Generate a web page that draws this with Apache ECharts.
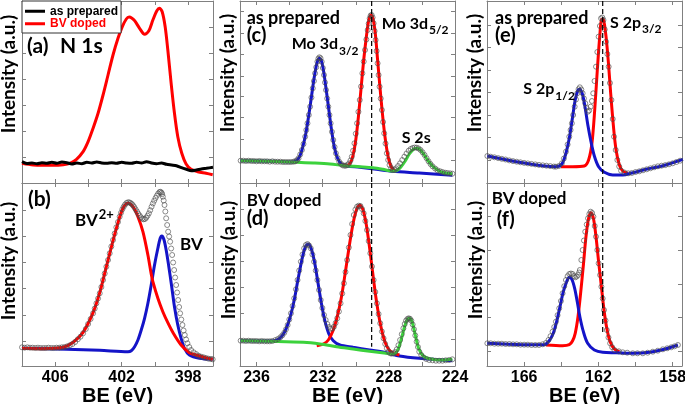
<!DOCTYPE html>
<html>
<head>
<meta charset="utf-8">
<script src="https://cdn.jsdelivr.net/npm/echarts@6/dist/echarts.min.js"></script>
<style>
html,body{margin:0;padding:0;background:#fff;}
#chart{width:685px;height:404px;}
</style>
</head>
<body>
<div id="chart"></div>
<script>
// ---------- DATA (binding energy in eV, intensity in arbitrary units) ----------
// Panel (a) N 1s survey
const nA_asPrepared = [[408.0,21.3],[407.7,19.5],[407.4,20.0],[407.1,19.3],[406.8,20.3],[406.5,19.7],[406.2,20.7],[405.9,19.7],[405.6,21.0],[405.3,20.3],[405.0,19.0],[404.7,20.0],[404.4,19.3],[404.1,20.7],[403.8,20.0],[403.5,21.0],[403.2,20.0],[402.9,19.7],[402.6,20.3],[402.3,19.7],[402.0,20.7],[401.7,20.0],[401.4,19.7],[401.1,20.7],[400.8,20.0],[400.5,21.3],[400.2,20.0],[399.9,19.3],[399.6,20.0],[399.3,18.7],[399.0,18.0],[398.7,17.3],[398.4,15.3],[398.1,13.7],[397.8,12.3],[397.5,13.0],[397.2,14.0],[396.9,14.7],[396.5,15.7]];
const nA_bvDoped = [[408.00,19.7],[407.32,18],[406.72,17.7],[406.12,17.7],[405.52,18.3],[405.12,19.7],[404.72,23.7],[404.32,31.3],[404.02,41.3],[403.72,54.7],[403.42,69.7],[403.12,88],[402.82,108],[402.52,128],[402.22,144.7],[401.96,156.3],[401.72,164],[401.55,165.9],[401.38,164.8],[401.22,162.3],[400.92,154.7],[400.62,148.7],[400.36,152.3],[400.12,163],[399.88,172.3],[399.72,174.7],[399.56,171.3],[399.38,156.3],[399.22,133],[399.02,99.7],[398.82,69.7],[398.62,46.3],[398.38,29.7],[398.12,19],[397.82,13.7],[397.42,11.3],[396.92,9.7],[396.52,8.3]];
// Panel (b) N 1s fit of BV doped
const nB_data = [[408.0,18.7],[407.84,18.3],[407.68,18.7],[407.52,18.3],[407.36,18.3],[407.2,18.0],[407.04,18.3],[406.88,18.0],[406.72,18.0],[406.56,18.0],[406.4,18.3],[406.24,18.0],[406.08,18.0],[405.92,18.3],[405.76,18.3],[405.6,18.7],[405.44,19.0],[405.28,19.7],[405.12,20.7],[404.96,22],[404.8,24],[404.64,26.7],[404.48,29.3],[404.32,32.7],[404.16,37],[404.02,42],[403.87,47],[403.72,52.7],[403.62,57.5],[403.52,62.7],[403.42,67.5],[403.32,72.7],[403.22,79],[403.12,86],[403.02,92.5],[402.92,99.3],[402.82,106],[402.72,112.7],[402.62,119.5],[402.52,126],[402.42,132.5],[402.32,138.7],[402.22,144],[402.12,149.3],[402.04,153.2],[401.96,156.7],[401.88,159.2],[401.80,161.3],[401.71,163],[401.62,163.7],[401.54,163.6],[401.46,163],[401.39,162],[401.32,160.7],[401.24,158.9],[401.16,156.7],[401.08,154.5],[401.00,152.3],[400.92,150.4],[400.84,148.7],[400.76,147.4],[400.68,146.7],[400.60,147],[400.52,148.3],[400.44,150.3],[400.36,152.7],[400.28,155.8],[400.20,159.3],[400.12,162.5],[400.04,165.3],[399.96,168],[399.88,170.3],[399.80,172.4],[399.72,174],[399.66,174.2],[399.60,173.3],[399.56,171.8],[399.52,169.3],[399.47,165.5],[399.42,161],[399.37,154.5],[399.32,147.7],[399.26,141],[399.20,134.3],[399.14,129.5],[399.08,124.3],[399.02,117.5],[398.96,111],[398.90,103.5],[398.84,96],[398.78,88.5],[398.72,81],[398.66,73.5],[398.60,66],[398.54,59],[398.48,52.7],[398.41,46.5],[398.34,41],[398.27,35.5],[398.20,31],[398.12,26.5],[398.04,22.7],[397.93,19],[397.82,16],[397.67,13.7],[397.52,12],[397.37,10.3],[397.22,9.3],[397.07,8.7],[396.92,8],[396.77,7.3],[396.62,7],[396.52,6.7]];
const nB_fitBV2 = [[408.00,17.7],[406.72,17.3],[405.52,18.7],[404.92,23.7],[404.32,33.7],[403.72,53.3],[403.32,73.3],[402.92,99.3],[402.52,125.3],[402.22,143.3],[401.92,157.7],[401.62,162.7],[401.32,159.3],[401.02,149.3],[400.72,134.3],[400.42,111],[400.22,92],[400.12,84.3],[399.82,67.7],[399.52,54.3],[399.22,43.3],[398.92,33.7],[398.42,21],[397.92,13.3],[397.52,11],[396.92,8.3],[396.52,6.7]];
const nB_fitBV = [[408.00,17.7],[405.32,16.7],[403.32,15.7],[401.62,14.3],[401.42,15.3],[401.22,19.3],[401.02,26],[400.82,36],[400.62,47.7],[400.42,62.7],[400.22,81],[400.02,101],[399.82,117.7],[399.68,127.7],[399.58,130],[399.46,126.7],[399.32,116],[399.16,99.3],[399.00,81],[398.82,59.3],[398.62,41],[398.42,27.7],[398.22,17.7],[397.92,11],[397.32,7.7],[396.52,6.7]];
// Panel (c) Mo 3d, as prepared
const moC_data = [[236.96,22.3],[236.8,22.3],[236.64,22],[236.48,22.3],[236.32,22],[236.16,22],[236.0,21.7],[235.84,22],[235.68,21.7],[235.52,21.7],[235.36,21.7],[235.2,21.3],[235.04,21.7],[234.88,21.3],[234.72,21.3],[234.56,21.3],[234.4,21],[234.24,21],[234.08,21],[233.92,21],[233.76,21.3],[233.66,21.7],[233.56,22.8],[233.46,24.7],[233.36,28.5],[233.26,33],[233.16,39],[233.06,46.3],[232.99,53],[232.92,59.7],[232.84,68],[232.76,76.3],[232.68,85.5],[232.60,94.7],[232.53,102],[232.46,109.7],[232.39,115.8],[232.32,121.3],[232.26,124.4],[232.20,125.7],[232.13,124.8],[232.06,121.3],[231.99,115],[231.92,108],[231.86,100.5],[231.80,93],[231.73,84.5],[231.66,76.3],[231.59,68],[231.52,59.7],[231.44,51.2],[231.36,43],[231.28,36],[231.20,29.7],[231.10,25],[231.00,21.3],[230.90,19.2],[230.80,17.7],[230.70,17.3],[230.60,17.3],[230.50,18.2],[230.40,19.7],[230.32,22.5],[230.24,26.3],[230.16,32.3],[230.08,39.7],[230.00,49.3],[229.92,59.7],[229.84,71.2],[229.76,83],[229.68,96.5],[229.60,109.7],[229.52,121.5],[229.44,133],[229.36,143.5],[229.28,153],[229.22,159.5],[229.16,164.7],[229.10,167.5],[229.04,168],[228.98,165.5],[228.92,159.7],[228.86,152],[228.80,143],[228.74,132],[228.68,119.7],[228.62,108],[228.56,96.3],[228.49,84.5],[228.42,73],[228.35,61],[228.28,49.7],[228.20,39.5],[228.12,29.7],[228.04,23],[227.96,18],[227.86,15],[227.76,13],[227.66,13.3],[227.56,14.7],[227.44,17],[227.32,19.7],[227.19,23],[227.06,26.3],[226.93,29.5],[226.80,32.3],[226.68,34],[226.56,35],[226.44,35.5],[226.32,35.3],[226.20,34.5],[226.08,33],[225.96,30.7],[225.84,28],[225.72,24.8],[225.60,21.7],[225.48,19],[225.36,16.7],[225.2,14.5],[225.06,12.7],[224.9,11.7],[224.76,11],[224.6,10.3],[224.46,10],[224.3,9.7],[224.16,9.3]];
const moC_d32 = [[236.96,22.3],[235.16,21.7],[233.86,21],[233.60,22.3],[233.40,26.3],[233.20,36.3],[233.00,51.3],[232.84,68],[232.68,86.3],[232.52,104.7],[232.36,119],[232.22,124.7],[232.08,122.3],[231.94,111.3],[231.80,94.7],[231.64,74.7],[231.48,54.7],[231.30,36.3],[231.10,24.7],[230.86,18.7],[230.56,17],[229.76,15.7],[228.76,13.7],[227.76,11.7],[226.16,10],[224.16,7.7]];
const moC_d52 = [[230.86,17.7],[230.56,17.3],[230.32,20.3],[230.16,28],[230.00,43],[229.84,66.3],[229.68,94.7],[229.52,123],[229.36,146.3],[229.22,162.3],[229.08,168],[228.96,164.7],[228.82,149.7],[228.68,123],[228.54,96.3],[228.40,71.3],[228.26,49.7],[228.10,31.3],[227.94,19.7],[227.76,13.7],[227.56,12]];
const moC_s2s = [[236.96,22.3],[235.16,21.7],[233.56,20.7],[232.56,20],[231.56,19],[230.66,17.3],[229.76,16.3],[228.96,15.3],[228.36,13.7],[227.86,12],[227.56,12.3],[227.26,16.3],[227.00,22.3],[226.76,29],[226.56,33],[226.36,34.7],[226.16,34],[225.92,29.7],[225.66,23],[225.36,17],[225.06,13],[224.66,10.3],[224.16,9.3]];
// Panel (d) Mo 3d, BV doped
const moD_data = [[236.96,25.3],[236.8,25.3],[236.64,25],[236.48,25.3],[236.32,25],[236.16,25],[236.0,25],[235.84,24.7],[235.68,25],[235.52,24.7],[235.36,24.7],[235.2,24.7],[235.04,25],[234.86,26],[234.71,27],[234.56,28.7],[234.44,30.7],[234.32,33.3],[234.22,36.7],[234.12,41],[234.02,46.5],[233.92,52.7],[233.82,60],[233.72,67.7],[233.62,76.7],[233.52,86],[233.42,95.5],[233.32,104.3],[233.22,111.5],[233.12,117.7],[233.02,121],[232.92,122],[232.82,120.5],[232.72,117.7],[232.62,111.5],[232.52,104.3],[232.42,95.5],[232.32,86],[232.22,76],[232.12,66],[232.02,58],[231.92,51],[231.82,46],[231.72,42],[231.62,39],[231.52,37.3],[231.42,37.5],[231.32,39.3],[231.22,43],[231.12,47.7],[231.02,54.5],[230.92,62.7],[230.82,72.5],[230.72,82.7],[230.62,94],[230.52,106],[230.42,118.5],[230.32,131],[230.22,142],[230.12,151],[230.02,156.5],[229.92,159.3],[229.82,160.3],[229.72,160],[229.62,157],[229.52,152.7],[229.42,145],[229.32,136],[229.22,125],[229.12,112.7],[229.02,99.5],[228.92,86],[228.82,74],[228.72,62.7],[228.62,52],[228.52,42.7],[228.42,34.5],[228.32,27.7],[228.22,22],[228.12,17.7],[228.02,14.5],[227.92,12.7],[227.82,12.3],[227.72,12.7],[227.62,14],[227.52,16.7],[227.42,20.8],[227.32,26],[227.22,31.8],[227.12,37.7],[227.04,42],[226.96,45.3],[226.88,47],[226.80,47.7],[226.72,47.2],[226.64,45.3],[226.56,41.5],[226.48,36.7],[226.40,30.5],[226.32,24.3],[226.24,19],[226.16,14.3],[226.04,11],[225.92,8.7],[225.74,7],[225.56,6],[225.36,5.7],[225.16,5.3],[224.96,5.3],[224.76,5.3],[224.56,5.7],[224.36,6],[224.16,6.7]];
const moD_d32 = [[236.96,25.3],[235.16,25],[234.76,26],[234.46,30],[234.20,37.7],[233.96,49.3],[233.72,66],[233.48,87.7],[233.24,107.7],[233.04,119.3],[232.88,122],[232.68,116.7],[232.48,102.7],[232.28,82.7],[232.08,62.7],[231.88,46],[231.64,32.7],[231.36,25.3],[230.96,21],[230.16,18.7],[229.16,16],[228.16,13.3],[227.36,10],[226.16,7.7],[224.16,5.3]];
const moD_d52 = [[232.36,20.3],[231.96,22],[231.66,26],[231.36,36],[231.12,49.3],[230.88,67.7],[230.64,92.7],[230.40,119.3],[230.16,142.7],[229.96,156],[229.76,160.7],[229.56,156],[229.36,141],[229.16,117.7],[228.96,91],[228.76,66],[228.56,46],[228.36,31],[228.16,21],[227.92,15],[227.66,12.7],[227.36,11]];
const moD_s2s = [[236.96,25.3],[235.16,24.7],[233.16,23.7],[232.16,22],[231.16,19.3],[230.16,17],[229.16,14.7],[228.16,12.7],[227.72,12],[227.46,16],[227.26,26],[227.06,38.7],[226.90,46],[226.76,47.7],[226.60,44.3],[226.40,31],[226.20,17.7],[225.92,10],[225.46,7],[224.76,6],[224.16,6.7]];
// Panel (e) S 2p, as prepared
const sE_data = [[167.98,27],[167.8,26.3],[167.6,25.7],[167.4,24.9],[167.2,24.2],[167.0,23.5],[166.8,22.6],[166.6,21.9],[166.4,21.3],[166.2,20.7],[166.0,20.1],[165.8,19.6],[165.6,19.1],[165.4,18.6],[165.2,18.1],[165.0,17.7],[164.8,17.3],[164.6,16.9],[164.4,16.5],[164.29,16.3],[164.13,17],[163.97,19.7],[163.86,24.5],[163.75,31.3],[163.66,38.5],[163.57,46.3],[163.50,53],[163.43,59.7],[163.36,68],[163.28,76.3],[163.21,83.5],[163.14,89.7],[163.07,93.8],[163.00,95.7],[162.92,93.5],[162.85,89.7],[162.78,84.5],[162.71,79.7],[162.64,75],[162.57,71.3],[162.50,72.5],[162.42,76.3],[162.35,82],[162.28,89.7],[162.21,102],[162.13,116.3],[162.06,131],[161.99,146.3],[161.92,157],[161.86,164.7],[161.79,165.5],[161.73,163],[161.66,153.5],[161.59,141.3],[161.52,129],[161.45,116.3],[161.38,100],[161.30,83],[161.23,64],[161.16,46.3],[161.07,33],[160.98,23],[160.88,16.5],[160.78,12.3],[160.6,10.5],[160.4,9.7],[160.2,10],[160.0,11],[159.8,11.7],[159.6,12.7],[159.4,13.7],[159.2,14.7],[159.0,15.7],[158.8,16.7],[158.6,17.3],[158.4,17.9],[158.2,18.7],[158.0,19.7],[157.8,21],[157.6,22.3],[157.45,23.7]];
const sE_p12 = [[167.98,27],[166.09,20.3],[164.29,16.3],[163.97,19],[163.75,29.7],[163.57,44.7],[163.39,66.3],[163.25,83],[163.11,92.3],[163.00,93.7],[162.85,88],[162.71,74.7],[162.57,58],[162.40,41.3],[162.22,27],[161.99,16.3],[161.68,10.7],[161.23,8],[160.69,8],[160.15,10.3],[159.43,13.7],[158.53,17.3],[157.45,23.7]];
const sE_p32 = [[164.02,16.3],[163.39,16.3],[162.76,17],[162.53,23],[162.35,39.7],[162.20,73],[162.06,113],[161.93,146.3],[161.82,163.7],[161.72,163],[161.59,146.3],[161.46,119.7],[161.34,89.7],[161.19,56.3],[161.05,33],[160.87,18],[160.69,12],[160.42,9.7]];
// Panel (f) S 2p, BV doped
const sF_data = [[167.98,22.7],[167.8,22.7],[167.6,22.3],[167.4,22.3],[167.2,22.3],[167.0,22],[166.8,22],[166.6,21.7],[166.4,21.7],[166.2,21.3],[166.0,21.3],[165.8,21.3],[165.6,21],[165.4,21],[165.2,21],[165.0,21.7],[164.83,23],[164.69,26],[164.58,29.8],[164.47,34.3],[164.38,39],[164.29,44.3],[164.20,50.8],[164.11,57.7],[164.02,65],[163.93,72.7],[163.84,79.8],[163.75,86],[163.66,89.8],[163.57,92],[163.48,92.5],[163.39,92],[163.32,90],[163.25,88.7],[163.17,89.5],[163.10,91],[163.04,93.5],[163.00,96],[162.92,106],[162.85,116],[162.78,125.5],[162.71,134.3],[162.63,141.5],[162.56,147.7],[162.49,152],[162.42,154.3],[162.34,153],[162.27,149.3],[162.20,140],[162.13,129.3],[162.06,116],[161.99,102.7],[161.91,91],[161.84,79.3],[161.77,67.5],[161.70,56],[161.62,45.5],[161.55,36],[161.46,28.5],[161.37,22.7],[161.26,18.8],[161.14,16],[160.9,14.7],[160.69,13.7],[160.45,13.3],[160.15,12.7],[159.9,12.7],[159.61,12.7],[159.35,13.3],[159.07,14.3],[158.8,15.3],[158.53,16.7],[158.3,17.7],[158.08,18.7],[157.9,19.7],[157.72,21]];
const sF_p12 = [[167.98,22.7],[166.09,21.3],[164.92,21.3],[164.65,25.3],[164.43,32.7],[164.25,44.3],[164.07,59.3],[163.89,74.3],[163.71,84.3],[163.57,88.7],[163.43,86.7],[163.28,77.7],[163.14,64.3],[163.00,49.3],[162.81,34.3],[162.58,22.7],[162.22,16],[161.77,13.7],[161.05,13.3],[160.15,12.7],[159.25,13.7],[158.35,17.3],[157.72,21]];
const sF_p32 = [[164.83,21],[163.93,20.3],[163.57,21.3],[163.39,25.3],[163.25,32.7],[163.10,49.3],[162.96,72.7],[162.81,101],[162.67,129.3],[162.53,147.7],[162.40,153.3],[162.27,147.7],[162.13,129.3],[161.99,104.3],[161.84,79.3],[161.70,56],[161.55,37.7],[161.37,24.3],[161.14,17],[160.87,14.3]];
// Reference (dashed) lines: [BE, intensity] end points
const refMoTop = [[229.04,182],[229.04,0]];
const refMoBottom = [[229.04,183],[229.04,19.3]];
const refSTop = [[161.77,182],[161.77,0]];
const refSBottom = [[161.77,183],[161.77,31]];
// Axis ticks and labels
const beTicksN = [398,400,402,404,406];
const beLabelsN = [398,402,406];
const beTicksMo = [224,226,228,230,232,234,236];
const beLabelsMo = [224,228,232,236];
const beTicksS = [158,160,162,164,166];
const beLabelsS = [158,162,166];
const xRanges = [[396.5,408],[396.5,408],[224,237],[224,237],[157.5,168],[157.5,168]];
const yMax = [182,183,182,183,182,183];
const yTicks = [
  [26,52,78,104,130,156],
  [25,51,77.7,103.7,130,156],
  [23,44,65.3,86.3,107,128.7,149.7,171.3],
  [26.7,52.7,78.7,104.3,130.3,156.7],
  [23,45.3,68,90.3,113,135.3,158],
  [15,48.3,82,115.3,149.3]
];
const xTickSets = [beTicksN,beTicksN,beTicksMo,beTicksMo,beTicksS,beTicksS];
const xLabelSets = [null,beLabelsN,null,beLabelsMo,null,beLabelsS];

// ---------- CHART ----------
const RED = '#ff0000', BLUE = '#1414c8', GREEN = '#3cd23c', GRAYAX = '#808080';
const grids = [
  {left:22, top:1, width:191, height:182},
  {left:22, top:183, width:191, height:183},
  {left:240, top:1, width:215, height:182},
  {left:240, top:183, width:215, height:183},
  {left:487, top:1, width:195, height:182},
  {left:487, top:183, width:195, height:183}
].map(g => Object.assign(g, {containLabel:false, outerBoundsMode:'none'}));
const xAxisList = [];
function makeX(i, pos) {
  const ax = {
    type:'value', gridIndex:i, min:xRanges[i][0], max:xRanges[i][1], inverse:true, position:pos,
    axisLine:{show:true, onZero:false, lineStyle:{color:GRAYAX, width:1}},
    axisTick:{show:true, inside:true, length:4, customValues:xTickSets[i], lineStyle:{color:GRAYAX}},
    splitLine:{show:false}, axisLabel:{show:false}
  };
  if (pos === 'bottom' && xLabelSets[i]) {
    ax.axisLabel = {show:true, customValues:xLabelSets[i], margin:4, color:'#000',
      fontFamily:'Liberation Sans', fontWeight:'bold', fontSize:16};
    ax.name = 'BE (eV)';
    ax.nameLocation = 'middle';
    ax.nameGap = 18;
    ax.nameTextStyle = {fontFamily:'Liberation Sans', fontWeight:'bold', fontSize:20, color:'#000', verticalAlign:'top'};
  }
  return ax;
}
for (let i = 0; i < 6; i++) xAxisList.push(makeX(i, 'bottom'));
for (let i = 0; i < 6; i++) xAxisList.push(makeX(i, 'top'));
const yAxes = [];
for (let side of ['left','right']) {
  for (let i = 0; i < 6; i++) {
    yAxes.push({
      type:'value', gridIndex:i, position:side, min:0, max:yMax[i],
      axisLine:{show:true, onZero:false, lineStyle:{color:GRAYAX, width:1}},
      axisTick:{show:true, inside:true, length:4, customValues:yTicks[i], lineStyle:{color:GRAYAX}},
      axisLabel:{show:false}, splitLine:{show:false}
    });
  }
}

function fit(name, data, gi, color, z) {
  return {name, type:'line', data, xAxisIndex:gi, yAxisIndex:gi, smooth:0.3, showSymbol:false,
    symbol:'none', lineStyle:{color, width:3}, itemStyle:{color}, z:z||2, silent:true};
}
function pts(name, data, gi) {
  return {name, type:'scatter', data, xAxisIndex:gi, yAxisIndex:gi, symbol:'circle', symbolSize:5,
    itemStyle:{color:'rgba(0,0,0,0)', borderColor:'#4a4a4a', borderWidth:0.8}, z:5, silent:true};
}
function dash(name, data, gi) {
  return {name, type:'line', data, xAxisIndex:gi, yAxisIndex:gi, symbol:'none', showSymbol:false,
    lineStyle:{color:'#000', width:1.2, type:[5,3]}, z:6, silent:true};
}

const series = [
  fit('as prepared', nA_asPrepared, 0, '#000', 3),
  fit('BV doped', nA_bvDoped, 0, RED, 2),
  fit('BV2+ component', nB_fitBV2, 1, RED, 3),
  fit('BV component', nB_fitBV, 1, BLUE, 2),
  pts('N 1s data', nB_data, 1),
  fit('Mo 3d3/2 (c)', moC_d32, 2, BLUE, 2),
  fit('Mo 3d5/2 (c)', moC_d52, 2, RED, 3),
  fit('S 2s (c)', moC_s2s, 2, GREEN, 4),
  pts('Mo 3d data (c)', moC_data, 2),
  dash('ref (c)', refMoTop, 2),
  fit('Mo 3d3/2 (d)', moD_d32, 3, BLUE, 2),
  fit('Mo 3d5/2 (d)', moD_d52, 3, RED, 3),
  fit('S 2s (d)', moD_s2s, 3, GREEN, 4),
  pts('Mo 3d data (d)', moD_data, 3),
  dash('ref (d)', refMoBottom, 3),
  fit('S 2p3/2 (e)', sE_p32, 4, RED, 2),
  fit('S 2p1/2 (e)', sE_p12, 4, BLUE, 3),
  pts('S 2p data (e)', sE_data, 4),
  dash('ref (e)', refSTop, 4),
  fit('S 2p3/2 (f)', sF_p32, 5, RED, 2),
  fit('S 2p1/2 (f)', sF_p12, 5, BLUE, 3),
  pts('S 2p data (f)', sF_data, 5),
  dash('ref (f)', refSBottom, 5)
];

const FF = 'Lato';
function txt(text, x, y, size) {
  return {type:'text', x, y, z:100, silent:true,
    style:{text, fill:'#000', fontFamily:FF, fontWeight:'bold', fontSize:size, textAlign:'left', textVerticalAlign:'middle'}};
}
// label with subscript (sub) or superscript (sup)
function script(main, small, x, y, size, mode) {
  const rich = mode === 'sub'
    ? {m:{fontFamily:FF, fontWeight:'bold', fontSize:size, lineHeight:size+2, verticalAlign:'top', fill:'#000'},
       s:{fontFamily:FF, fontWeight:'bold', fontSize:12, lineHeight:12, verticalAlign:'top', padding:[Math.round(size*0.55),0,0,1], fill:'#000'}}
    : {m:{fontFamily:FF, fontWeight:'bold', fontSize:size, lineHeight:size+2, verticalAlign:'top', padding:[4,0,0,0], fill:'#000'},
       s:{fontFamily:FF, fontWeight:'bold', fontSize:13, lineHeight:13, verticalAlign:'top', padding:[0,0,0,1], fill:'#000'}};
  return {type:'text', x, y, z:100, silent:true,
    style:{text:'{m|' + main + '}{s|' + small + '}', rich, textAlign:'left', textVerticalAlign:'middle'}};
}
function ylab(x, y) {
  return {type:'text', x, y, rotation:Math.PI/2, z:100, silent:true,
    style:{text:'Intensity (a.u.)', fill:'#000', fontFamily:FF, fontWeight:'bold', fontSize:19, textAlign:'center', textVerticalAlign:'middle'}};
}

const graphic = [
  ylab(9, 74), ylab(9, 261), ylab(228, 73), ylab(228.5, 260), ylab(475, 73), ylab(475.5, 260),
  txt('(a)', 27, 46, 21), txt('N 1s', 60, 46, 21),
  txt('(b)', 28, 199, 21),
  script('BV', '2+', 75, 218, 17, 'sup'),
  txt('BV', 180, 245, 17),
  txt('as prepared', 246.7, 18.5, 18), txt('(c)', 246.7, 36, 20),
  script('Mo 3d', '3/2', 291.7, 45, 16, 'sub'),
  script('Mo 3d', '5/2', 381.7, 24.5, 16, 'sub'),
  txt('S 2s', 401.7, 138, 16),
  txt('BV doped', 246.7, 201, 17), txt('(d)', 246.7, 219, 20),
  txt('as prepared', 495, 18.5, 18), txt('(e)', 495, 36, 20),
  script('S 2p', '3/2', 610, 23.5, 16, 'sub'),
  script('S 2p', '1/2', 523.3, 90, 16, 'sub'),
  txt('BV doped', 491.7, 198.5, 17), txt('(f)', 496.7, 220, 20)
];

const chart = echarts.init(document.getElementById('chart'), null, {renderer:'canvas'});
chart.setOption({
  animation:false,
  backgroundColor:'#fff',
  grid:grids,
  xAxis:xAxisList,
  yAxis:yAxes,
  legend:{
    left:22, top:1, orient:'vertical', icon:'rect', itemWidth:20, itemHeight:3, itemGap:0,
    padding:[4,3,3,3], borderColor:'#333', borderWidth:1, backgroundColor:'#fff', selectedMode:false,
    textStyle:{fontFamily:'Liberation Sans', fontWeight:'bold', fontSize:12, lineHeight:12.5, color:'#000'},
    data:[{name:'as prepared', textStyle:{color:'#000'}}, {name:'BV doped', textStyle:{color:'#ff0000'}}]
  },
  series,
  graphic
});
</script>
</body>
</html>
